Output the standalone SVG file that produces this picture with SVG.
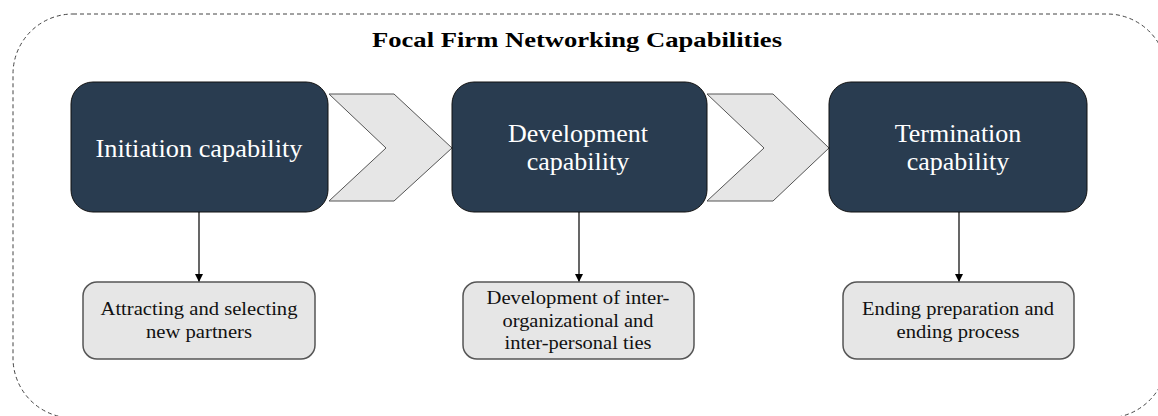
<svg xmlns="http://www.w3.org/2000/svg" width="1158" height="416" viewBox="0 0 1158 416">
  <defs>
    <marker id="arr" markerWidth="10" markerHeight="10" refX="8" refY="4" orient="auto" markerUnits="userSpaceOnUse">
      <path d="M0,0 L8,4 L0,8 Z" fill="#000"/>
    </marker>
    <style>
      .main{fill:#293c50;stroke:#111;stroke-width:1}
      .sub{fill:#e6e6e6;stroke:#555;stroke-width:1.5}
      .chev{fill:#e6e6e6;stroke:#555;stroke-width:1}
      text{font-family:'Liberation Serif','DejaVu Serif',serif}
      .mt{font-size:26px;fill:#fff;text-anchor:middle}
      .st{font-size:19px;fill:#111;text-anchor:middle}
      .title{font-size:21px;font-weight:bold;fill:#000;text-anchor:middle}
      .conn{stroke:#000;stroke-width:1.2;fill:none}
    </style>
  </defs>
  <rect x="13" y="14" width="1154" height="404" rx="60" ry="60" fill="none" stroke="#444" stroke-width="1" stroke-dasharray="4,3"/>
  <text class="title" x="577" y="47" textLength="410" lengthAdjust="spacingAndGlyphs">Focal Firm Networking Capabilities</text>

  <g id="chevron1"><polygon class="chev" points="329,94 394,94 452,148 394,201 329,201 386,148"/></g>
  <g id="chevron2"><polygon class="chev" points="707,94 773,94 829,148 773,201 707,201 764,148"/></g>

  <g id="initiation">
    <rect class="main" x="71" y="82" width="257" height="130" rx="22" ry="22"/>
    <text class="mt" x="199" y="157" textLength="207" lengthAdjust="spacingAndGlyphs">Initiation capability</text>
  </g>
  <g id="development">
    <rect class="main" x="452" y="82" width="255" height="130" rx="22" ry="22"/>
    <text class="mt" x="578" y="142">Development</text>
    <text class="mt" x="578" y="170">capability</text>
  </g>
  <g id="termination">
    <rect class="main" x="829" y="82" width="258" height="130" rx="22" ry="22"/>
    <text class="mt" x="958" y="142">Termination</text>
    <text class="mt" x="958" y="170">capability</text>
  </g>

  <g id="connectors">
    <line class="conn" x1="199" y1="212" x2="199" y2="282" marker-end="url(#arr)"/>
    <line class="conn" x1="579" y1="212" x2="579" y2="282" marker-end="url(#arr)"/>
    <line class="conn" x1="959" y1="212" x2="959" y2="282" marker-end="url(#arr)"/>
  </g>

  <g id="attracting">
    <rect class="sub" x="83" y="282" width="232" height="77" rx="14" ry="14"/>
    <text class="st" x="199" y="315" textLength="197" lengthAdjust="spacingAndGlyphs">Attracting and selecting</text>
    <text class="st" x="199" y="338" textLength="106" lengthAdjust="spacingAndGlyphs">new partners</text>
  </g>
  <g id="ties">
    <rect class="sub" x="463" y="282" width="231" height="77" rx="14" ry="14"/>
    <text class="st" x="578" y="304" textLength="183" lengthAdjust="spacingAndGlyphs">Development of inter-</text>
    <text class="st" x="578" y="327" textLength="151" lengthAdjust="spacingAndGlyphs">organizational and</text>
    <text class="st" x="578" y="349" textLength="147" lengthAdjust="spacingAndGlyphs">inter-personal ties</text>
  </g>
  <g id="ending">
    <rect class="sub" x="843" y="282" width="231" height="77" rx="14" ry="14"/>
    <text class="st" x="958" y="315" textLength="192" lengthAdjust="spacingAndGlyphs">Ending preparation and</text>
    <text class="st" x="958" y="338" textLength="123" lengthAdjust="spacingAndGlyphs">ending process</text>
  </g>
</svg>
